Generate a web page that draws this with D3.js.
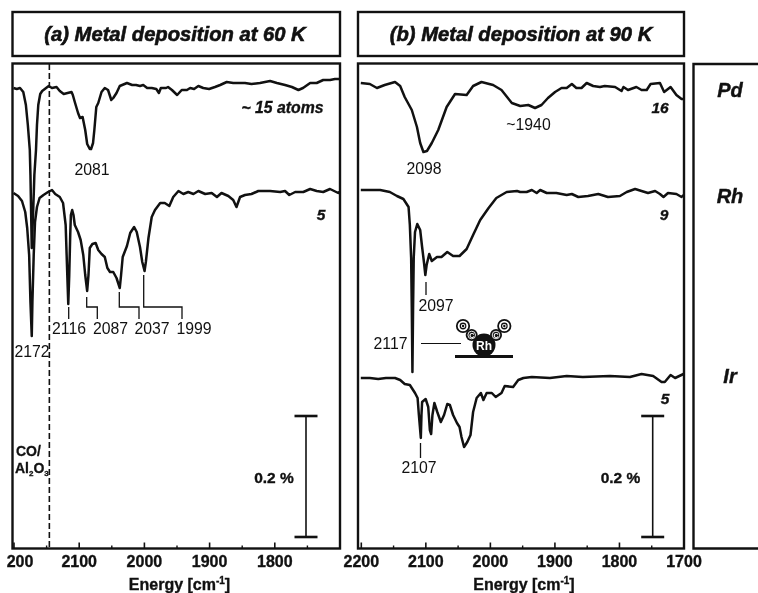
<!DOCTYPE html>
<html><head><meta charset="utf-8">
<script src="https://cdn.jsdelivr.net/npm/d3@7"></script>
<style>
html,body{margin:0;padding:0;background:#fff;overflow:hidden}
svg{display:block;filter:blur(0.4px)}
text{font-family:"Liberation Sans",Arial,sans-serif;fill:#111}
</style></head><body><div id="c"></div>
<script>
// Wavenumber (cm-1) and offset signal (121 units = 0.2 %)
const pdA_wn=[2200,2195,2190,2185,2181,2178,2175,2174,2172,2170,2168,2165.5,2164,2162,2159,2156,2152,2146,2141,2134,2129,2123,2111,2109,2106,2101,2098,2094,2090,2087,2083,2081,2078,2076,2073,2070,2065,2060,2055,2050,2047,2042,2037,2026,2018,2012,2006,2001,1995,1988,1981,1977,1974,1966,1963,1957,1949,1942,1934,1929,1923,1916.5,1909,1900,1891,1883,1873,1863,1852.5,1845,1835,1822,1806.5,1796,1783.5,1773,1763,1756,1745,1735,1725,1714.5,1707,1700];
const pdA_sig=[461,460,461,457,444,424,399,374,301,334,374,399,424,444,455,458,460,463,461,462,458,455,457,454,447,436,431,432,419,405,400,400,406,419,442,446,457,461,459,449,451,456,463,466,464,464,463,464,461,461,460,456,461,461,462,459,454,459,459,461,460,463,461,460,462,464,467,466,466,466,465,466,468,466,464,462,459,461,466,466,469,469,470,470];
const rhA_wn=[2200,2193,2187,2182,2179,2176,2174,2172,2171,2169,2167,2164,2160,2154,2147,2141,2136,2129,2124,2120,2117.5,2116,2114.5,2113,2112,2110,2108,2106,2101,2097,2093,2090,2087,2085,2083,2079,2074,2070,2065,2060,2056,2052,2047,2042,2037,2035,2032.5,2026,2021,2015,2011,2006,2002.5,1999,1997,1993,1988,1983,1975,1968,1961,1955,1947,1939.5,1932,1924,1916.5,1906,1896,1888,1881,1870.5,1863,1858,1852.5,1845,1835,1824.5,1806.5,1791,1783.5,1777,1768,1755.5,1745,1735,1725,1714.5,1702,1700];
const rhA_sig=[356,353,348,337,321,294,247,213,247,294,327,342,351,354,357,359,355,352,346,324,274,245,274,314,334,339,334,324,317,309,294,274,258,274,301,305,306,299,295,292,281,277,277,271,261,274,292,303,316,322,317,302,287,278,287,311,332,339,346,346,343,352,358,355,357,355,358,355,356,352,356,353,349,342,352,354,355,358,358,357,358,354,357,357,360,358,357,360,356,357];
const pdB_wn=[2200,2186,2175,2163,2147,2139,2132,2121,2113,2108,2103,2097.5,2090,2080,2067,2054,2036,2026,2013,1995,1982,1966,1953,1940.5,1930,1920,1910,1899,1889,1881,1873,1866,1858,1850,1840,1829.5,1822,1806,1796,1793,1786,1773,1765,1757,1751,1736.5,1730,1720,1711,1703,1700];
const pdB_sig=[466,465,461,464,467,463,452,439,422,406,397,398,406,419,442,455,454,463,467,464,459,446,443,444,441,444,451,457,461,461,465,461,461,466,463,462,463,462,458,462,459,462,459,459,465,466,457,462,454,450,450];
const rhB_wn=[2200,2186,2170,2155,2144,2134,2126,2124,2122,2121,2120,2119,2118,2116,2112.5,2108,2105,2102,2100,2098,2094,2090,2082,2075,2066,2057,2047,2036,2026,2015,2002,1990,1974,1958,1953,1943,1935,1927.5,1922,1912,1897,1881,1873,1863,1848,1832,1817,1798.5,1788,1775,1765,1755,1744,1736.5,1731,1724,1711,1703,1700];
const rhB_sig=[359,359,359,357,353,350,342,324,291,241,177,241,291,317,325,319,302,286,274,284,295,288,292,292,297,293,293,300,314,329,341,351,357,358,357,357,359,356,359,356,356,354,355,352,353,355,352,353,357,360,358,356,358,355,352,356,355,352,354];
const irB_wn=[2200,2186,2173,2161,2147,2139,2132,2124,2116,2112,2110,2107,2106,2105,2099.5,2095.5,2093,2091,2089,2086,2081.5,2076,2071,2066,2062,2057,2051,2047,2044,2040,2035,2030,2026,2020.5,2014,2010,2005,1997,1991,1982,1977,1964,1956,1948,1935,1907,1881,1856,1814,1783,1765,1747,1734,1729,1720,1713,1700];
const irB_sig=[171,171,170,171,171,169,165,164,156,151,134,111,134,147,150,142,119,115,134,146,137,127,134,145,144,134,126,122,112,102,107,114,137,151,156,149,156,156,152,156,163,162,169,171,172,171,173,172,173,172,175,173,167,167,174,171,175];

const panelALabels=["2172","2116","2087","2037","1999"];
const tickMajor=[2200,2100,2000,1900,1800,1700];
const tickMinor=[2150,2050,1950,1850,1750];
const metals=["Pd","Rh","Ir"];
const headings=["(a) Metal deposition at 60 K","(b) Metal deposition at 90 K"];
const barValues=[0,0.2];

const W=758,H=593;
const svg=d3.select("#c").append("svg").attr("width",W).attr("height",H).attr("viewBox",`0 0 ${W} ${H}`);
const xA=d3.scaleLinear().domain([2200,1700]).range([13.5,339.5]);
const xB=d3.scaleLinear().domain([2200,1700]).range([360.8,683.5]);
const y=d3.scaleLinear().domain([0,486]).range([549,63]);
const pct=d3.scaleLinear().domain([0,0.2]).range([537,416]);

function box(x0,y0,x1,y1){svg.append("rect").attr("x",x0).attr("y",y0).attr("width",x1-x0).attr("height",y1-y0).attr("fill","none").attr("stroke","#111").attr("stroke-width",2.4);}
box(12.5,12,340,56);box(12.5,63.5,340,548.5);box(358,12,684,56);box(358,63.5,684,548.5);
svg.append("path").attr("d",`M${W+4} 64H693.5V548.5H${W+4}`).attr("fill","none").attr("stroke","#111").attr("stroke-width",2.4);

function txt(s,x,y0,size,opt={}){
  const t=svg.append("text").attr("x",x).attr("y",y0).attr("font-size",size).attr("text-anchor",opt.a||"middle")
   .attr("font-weight",opt.b?"bold":"normal").attr("font-style",opt.i?"italic":"normal").text(s);
  if(opt.st)t.attr("stroke","#111").attr("stroke-width",opt.st);
  return t;
}
txt(headings[0],175,41,20.2,{b:1,i:1,st:.6});
txt(headings[1],521,41,20.2,{b:1,i:1,st:.6});
const metalY=[97,203,383];
metals.forEach((m,i)=>txt(m,730,metalY[i],20,{b:1,i:1,st:.4}));

// axes
function axis(x,labelled,fmt){
  const g=svg.append("g").attr("transform","translate(0,548.5)");
  const ax=d3.axisBottom(x).tickValues(labelled).tickSize(-6).tickPadding(12).tickFormat(fmt);
  g.call(ax);
  g.select(".domain").remove();
  g.selectAll(".tick line").attr("stroke","#111").attr("stroke-width",1.6);
  g.selectAll("text").attr("font-size",16).attr("font-weight","bold").attr("fill","#111").attr("stroke","#111").attr("stroke-width",.35).attr("dy",null).attr("y",18.5);
  const m=svg.append("g").attr("transform","translate(0,548.5)");
  m.call(d3.axisBottom(x).tickValues(tickMinor).tickSize(-3).tickFormat(""));
  m.select(".domain").remove();
  m.selectAll(".tick line").attr("stroke","#111").attr("stroke-width",1.4);
}
// the reference is cropped through the first digit of panel (a)'s 2200 label
axis(xA,tickMajor.slice(0,5),d=>d===2200?"200":String(d));
svg.selectAll("g.tick").filter(d=>d===2200).select("text").attr("dx",6);
axis(xB,tickMajor,d=>String(d));
function energy(cx){
  const t=svg.append("text").attr("x",cx).attr("y",590).attr("text-anchor","middle").attr("font-size",16).attr("font-weight","bold").attr("stroke","#111").attr("stroke-width",.35);
  t.append("tspan").text("Energy [cm");
  t.append("tspan").text("-1").attr("font-size",10).attr("dy",-6);
  t.append("tspan").text("]").attr("dy",6);
}
energy(179.5);energy(524);

// traces
function trace(x,wn,sig){
  const pts=wn.map((w,i)=>[w,sig[i]]);
  svg.append("path").datum(pts).attr("fill","none").attr("stroke","#111").attr("stroke-width",2.5).attr("stroke-linejoin","round")
   .attr("d",d3.line().x(d=>x(d[0])).y(d=>y(d[1])));
}
trace(xA,pdA_wn,pdA_sig);trace(xA,rhA_wn,rhA_sig);
trace(xB,pdB_wn,pdB_sig);trace(xB,rhB_wn,rhB_sig);trace(xB,irB_wn,irB_sig);

// CO/Al2O3 reference
svg.append("line").attr("x1",xA(2145)).attr("x2",xA(2145)).attr("y1",64).attr("y2",548).attr("stroke","#111").attr("stroke-width",1.6).attr("stroke-dasharray","6,3");

// scale bars
function bar(cx){
  const g=svg.append("g").attr("stroke","#111");
  g.append("line").attr("x1",cx).attr("x2",cx).attr("y1",pct(barValues[0])).attr("y2",pct(barValues[1])).attr("stroke-width",1.6);
  barValues.forEach(v=>g.append("line").attr("x1",cx-11.5).attr("x2",cx+11.5).attr("y1",pct(v)).attr("y2",pct(v)).attr("stroke-width",2.6));
}
bar(306);bar(652.7);
txt("0.2 %",274,483,15.5,{b:1,st:.35});
txt("0.2 %",620.5,483,15.5,{b:1,st:.35});

// leaders
function leader(pts,sw){svg.append("path").attr("d",d3.line()(pts)).attr("fill","none").attr("stroke","#111").attr("stroke-width",sw||1.3);}
leader([[68.7,307],[68.7,319]]);
leader([[86.7,297],[86.7,307],[97.3,307],[97.3,319]]);
leader([[119.3,292],[119.3,307],[139,307],[139,319]]);
leader([[143.7,275],[143.7,307],[182,307],[182,319]]);
leader([[426,282],[426,295]]);
leader([[420.5,443],[420.5,458]]);
leader([[421,343.5],[461,343.5]],1);

// peak labels
const F=15.8;
txt("2081",92,175,F);
txt(panelALabels[0],32,357,F);
txt(panelALabels[1],69,334,F);
txt(panelALabels[2],110.5,334,F);
txt(panelALabels[3],152,334,F);
txt(panelALabels[4],194,334,F);
txt("2098",424,174,F);
txt("~1940",528.5,130,F);
txt("2097",436,311,F);
txt("2117",390.5,349,F);
txt("2107",419,473,F);
txt("~ 15 atoms",282.5,113,15.8,{b:1,i:1,st:.35});
txt("5",321,220,15.5,{b:1,i:1,st:.35});
txt("16",660,113,15.5,{b:1,i:1,st:.35});
txt("9",664,220,15.5,{b:1,i:1,st:.35});
txt("5",665,404,15.5,{b:1,i:1,st:.35});

// CO / Al2O3
txt("CO/",16,456,14,{a:"start",b:1,st:.3});
const al=svg.append("text").attr("x",15).attr("y",473).attr("font-size",14).attr("font-weight","bold").attr("stroke","#111").attr("stroke-width",.3);
al.append("tspan").text("Al");
al.append("tspan").text("2").attr("font-size",8).attr("dy",3);
al.append("tspan").text("O").attr("dy",-3);
al.append("tspan").text("3").attr("font-size",8).attr("dy",3);

// Rh(CO)2 sketch
const ic=svg.append("g");
ic.append("circle").attr("cx",484).attr("cy",345).attr("r",11.5).attr("fill","#111");
ic.append("line").attr("x1",455).attr("x2",513).attr("y1",356.5).attr("y2",356.5).attr("stroke","#111").attr("stroke-width",3);
[[471.7,335],[496,335]].forEach(p=>{
  ic.append("circle").attr("cx",p[0]).attr("cy",p[1]).attr("r",6).attr("fill","#111");
  ic.append("circle").attr("cx",p[0]).attr("cy",p[1]).attr("r",3.8).attr("fill","none").attr("stroke","#fff").attr("stroke-width",.9);
  ic.append("text").attr("x",p[0]).attr("y",p[1]+2.5).attr("text-anchor","middle").attr("font-size",7).attr("font-weight","bold").style("fill","#fff").text("C");
});
[[463,326],[504.3,326]].forEach(p=>{
  ic.append("circle").attr("cx",p[0]).attr("cy",p[1]).attr("r",6.2).attr("fill","#fff").attr("stroke","#111").attr("stroke-width",1.8);
  ic.append("circle").attr("cx",p[0]).attr("cy",p[1]).attr("r",3.4).attr("fill","#111");
  ic.append("text").attr("x",p[0]).attr("y",p[1]+2.2).attr("text-anchor","middle").attr("font-size",6).attr("font-weight","bold").style("fill","#fff").text("O");
});
ic.append("text").attr("x",484).attr("y",350).attr("text-anchor","middle").attr("font-size",12).attr("font-weight","bold").style("fill","#fff").text("Rh");
</script></body></html>
